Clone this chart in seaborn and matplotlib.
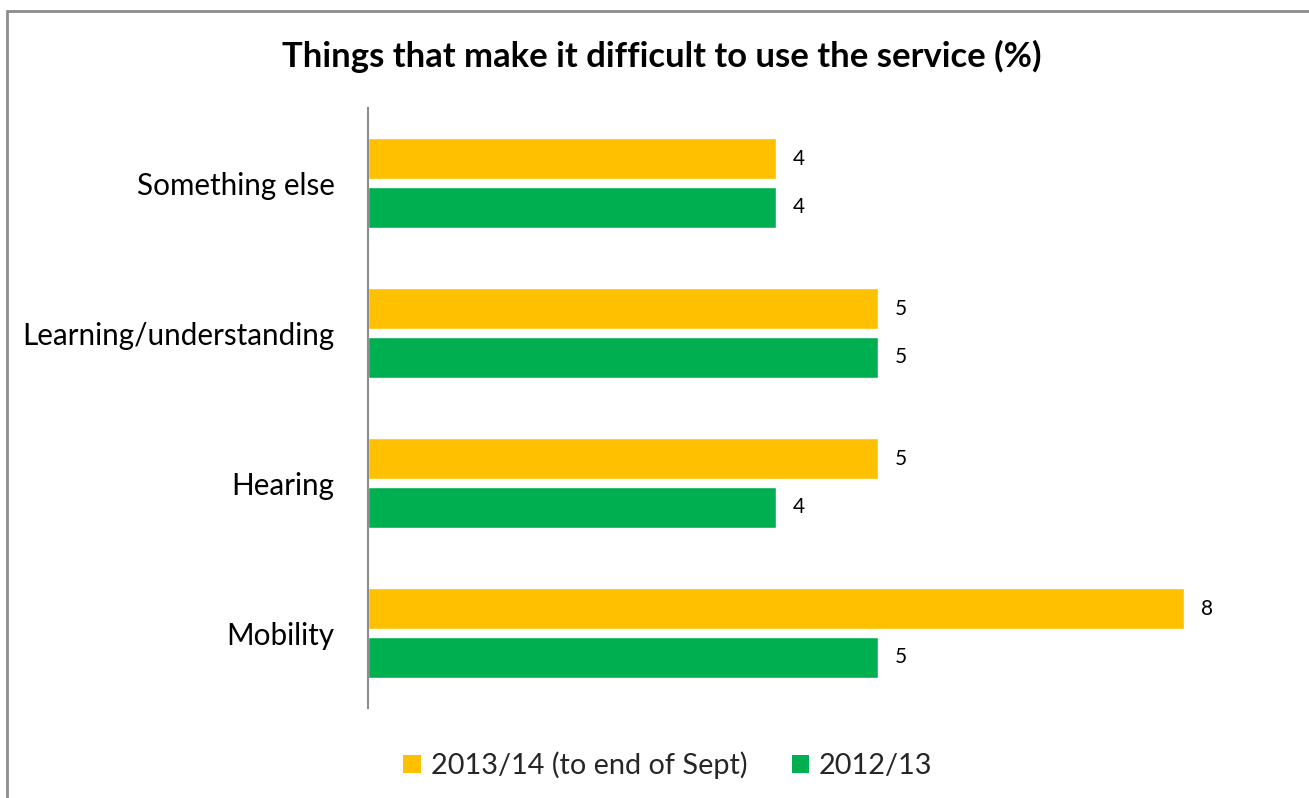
import matplotlib
matplotlib.use("Agg")
import matplotlib.pyplot as plt
import seaborn as sns
import pandas as pd
from matplotlib.patches import Rectangle, Patch

categories = ["Something else", "Learning/understanding", "Hearing", "Mobility"]
series_names = ["2013/14 (to end of Sept)", "2012/13"]
values_2013_14 = [4, 5, 5, 8]
values_2012_13 = [4, 5, 4, 5]
colors = ["#FFC000", "#00B050"]

df = pd.DataFrame({
    "category": categories * 2,
    "period": [series_names[0]] * len(categories) + [series_names[1]] * len(categories),
    "value": values_2013_14 + values_2012_13,
})

sns.set_theme(style="white")
plt.rcParams["font.family"] = ["Lato", "DejaVu Sans"]

W, H = 1309, 798
fig = plt.figure(figsize=(W / 100, H / 100), dpi=100)
ax = fig.add_axes([368 / W, 1 - 708 / H, (1286 - 368) / W, 600 / H])

sns.barplot(data=df, x="value", y="category", hue="period", order=categories,
            hue_order=series_names, palette=colors, orient="h",
            width=0.653, gap=0.18, saturation=1, ax=ax, legend=False)

for cont in ax.containers:
    ax.bar_label(cont, fmt="%d", padding=12, fontsize=15, color="#000000")

ax.set_xlim(0, 9)
ax.set_ylim(3.5, -0.5)
ax.set_xlabel("")
ax.set_ylabel("")
ax.set_xticks([])
ax.tick_params(axis="y", length=0, pad=24, labelsize=21.3, labelcolor="#000000")
for s in ["top", "right", "bottom"]:
    ax.spines[s].set_visible(False)
ax.spines["left"].set_color("#8c8c8c")
ax.spines["left"].set_linewidth(1.5)

fig.text(662 / W, 1 - 56 / H, "Things that make it difficult to use the service (%)",
         ha="center", va="center", fontsize=24.9, fontweight="bold", color="#000000")

handles = [Patch(facecolor=c, edgecolor="none") for c in colors]
fig.legend(handles, series_names, loc="center", bbox_to_anchor=(668 / W, 1 - 765 / H),
           ncol=2, frameon=False, fontsize=20.8, handlelength=0.59, handleheight=0.59,
           handletextpad=0.35, columnspacing=1.55)

# outer chart frame
fig.patches.append(Rectangle((7 / W, -0.05), 1.1, 1 - 11 / H + 0.05,
                             transform=fig.transFigure, fill=False,
                             edgecolor="#8c8c8c", linewidth=2))

fig.savefig("out.png", dpi=100, facecolor="white")
